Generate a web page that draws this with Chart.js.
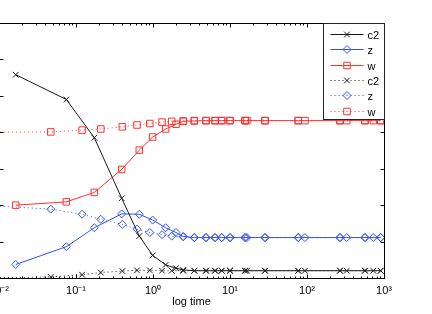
<!DOCTYPE html>
<html>
<head>
<meta charset="utf-8">
<script src="https://cdn.jsdelivr.net/npm/chart.js@4/dist/chart.umd.min.js"></script>
<style>
  html, body { margin: 0; padding: 0; background: #fff; overflow: hidden; }
  #wrap { position: absolute; left: -60px; top: 0; width: 492px; height: 314px; }
</style>
</head>
<body>
<div id="wrap"><canvas id="chart"></canvas></div>
<script>
// solid run
const tSolid  = [0.0165, 0.075, 0.173, 0.392, 0.664, 0.99, 1.46, 1.99, 2.47, 3.44, 4.88, 6.39, 7.8, 10, 15.7, 16.6, 28.5, 77, 94, 268, 328, 566, 726, 906];
const c2Solid = [5.58, 4.90, 3.85, 2.19, 1.15, 0.62, 0.36, 0.27, 0.22, 0.2, 0.2, 0.2, 0.2, 0.2, 0.2, 0.2, 0.2, 0.2, 0.2, 0.2, 0.2, 0.2, 0.2, 0.2];
const zSolid  = [0.37, 0.86, 1.38, 1.76, 1.75, 1.59, 1.38, 1.25, 1.14, 1.11, 1.11, 1.11, 1.11, 1.11, 1.11, 1.11, 1.11, 1.11, 1.11, 1.11, 1.11, 1.11, 1.11, 1.11];
const wSolid  = [2.0, 2.09, 2.35, 2.98, 3.51, 3.87, 4.09, 4.22, 4.30, 4.31, 4.32, 4.32, 4.32, 4.32, 4.32, 4.32, 4.32, 4.32, 4.32, 4.32, 4.32, 4.32, 4.32, 4.32];

// dotted run
const tDotted  = [0.005, 0.047, 0.12, 0.21, 0.40, 0.62, 0.91, 1.31, 1.75, 2.47, 3.44, 4.88, 6.39, 7.8, 10, 15.7, 28.5, 77, 268, 566, 906];
const c2Dotted = [0, 0.03, 0.09, 0.15, 0.19, 0.21, 0.21, 0.2, 0.2, 0.2, 0.2, 0.2, 0.2, 0.2, 0.2, 0.2, 0.2, 0.2, 0.2, 0.2, 0.2];
const zDotted  = [2.01, 1.89, 1.75, 1.61, 1.47, 1.34, 1.25, 1.19, 1.15, 1.13, 1.11, 1.11, 1.11, 1.11, 1.11, 1.11, 1.11, 1.11, 1.11, 1.11, 1.11];
const wDotted  = [4.0, 4.01, 4.06, 4.09, 4.15, 4.20, 4.24, 4.28, 4.30, 4.31, 4.32, 4.32, 4.32, 4.32, 4.32, 4.32, 4.32, 4.32, 4.32, 4.32, 4.32];

const xTicks = [0.01, 0.1, 1, 10, 100, 1000];
const xTickLabels = ["10⁻²", "10⁻¹", "10⁰", "10¹", "10²", "10³"];
const yTicks = [0, 1, 2, 3, 4, 5, 6, 7];
const legendLabels = ["c2", "z", "w", "c2", "z", "w"];

const FONT = "'Liberation Sans', Arial, Helvetica, sans-serif";
const BLACK = "#1a1a1a", BLUE = "#3050ff", RED = "#ff3030";

Chart.defaults.font.family = FONT;
Chart.defaults.font.size = 11;
Chart.defaults.color = "#000";

function pts(t, v) {
  return t.map((x, i) => ({ x, y: v[i] }));
}

function series(label, t, v, color, style, dotted) {
  return {
    label,
    data: pts(t, v),
    borderColor: color,
    backgroundColor: "transparent",
    borderWidth: 1,
    borderDash: dotted ? [1, 3] : [],
    pointStyle: style,
    pointRadius: style === "rect" ? 4.6 : 4,
    pointBorderColor: color,
    pointBackgroundColor: "transparent",
    pointBorderWidth: 1,
    pointHoverRadius: 0,
    tension: 0
  };
}

function drawMarker(ctx, style, r, x, y) {
  if (Chart.helpers && Chart.helpers.drawPoint) {
    Chart.helpers.drawPoint(ctx, { pointStyle: style, radius: r, borderWidth: 1, rotation: 0 }, x, y);
    return;
  }
  ctx.beginPath();
  if (style === "rect") {
    const s = r * Math.SQRT1_2;
    ctx.rect(x - s, y - s, 2 * s, 2 * s);
  } else if (style === "rectRot") {
    ctx.moveTo(x, y - r); ctx.lineTo(x + r, y); ctx.lineTo(x, y + r); ctx.lineTo(x - r, y); ctx.closePath();
  } else {
    const s = r * Math.SQRT1_2;
    ctx.moveTo(x - s, y - s); ctx.lineTo(x + s, y + s);
    ctx.moveTo(x + s, y - s); ctx.lineTo(x - s, y + s);
  }
  ctx.stroke();
}

// box, inward ticks and legend in the matlab way
const framePlugin = {
  id: "frame",
  afterDraw(chart) {
    const { ctx, chartArea: a, scales: { x, y } } = chart;
    const L = Math.round(a.left) + 0.5, R = Math.round(a.right) + 0.5;
    const T = Math.round(a.top) + 0.5, B = Math.round(a.bottom) + 0.5;
    ctx.save();
    ctx.strokeStyle = "#000";
    ctx.lineWidth = 1;
    ctx.setLineDash([]);
    ctx.strokeRect(L, T, R - L, B - T);

    ctx.beginPath();
    for (let e = -2; e <= 3; e++) {
      for (let m = 1; m <= 9; m++) {
        const v = m * Math.pow(10, e);
        if (v > 1000) break;
        const px = Math.round(x.getPixelForValue(v)) + 0.5;
        const len = m === 1 ? 4 : 2;
        ctx.moveTo(px, B); ctx.lineTo(px, B - len);
        ctx.moveTo(px, T); ctx.lineTo(px, T + len);
      }
    }
    yTicks.forEach(v => {
      const py = Math.round(y.getPixelForValue(v)) + 0.5;
      ctx.moveTo(L, py); ctx.lineTo(L + 4, py);
      ctx.moveTo(R, py); ctx.lineTo(R - 4, py);
    });
    ctx.stroke();

    // legend
    const w = 61, h = 96;
    const lx = R - w, ly = T;
    ctx.fillStyle = "#fff";
    ctx.fillRect(lx, ly, w, h);
    ctx.strokeStyle = "#222";
    ctx.strokeRect(lx, ly, w, h);
    ctx.font = "11px " + FONT;
    ctx.textBaseline = "middle";
    ctx.textAlign = "left";
    chart.data.datasets.forEach((ds, i) => {
      const ey = Math.round(ly + 10.5 + i * 15.3) + 0.5;
      ctx.strokeStyle = ds.borderColor;
      ctx.lineWidth = 1;
      ctx.setLineDash(ds.borderDash);
      ctx.beginPath();
      ctx.moveTo(lx + 7, ey);
      ctx.lineTo(lx + 40, ey);
      ctx.stroke();
      ctx.setLineDash([]);
      ctx.fillStyle = "rgba(0,0,0,0)";
      drawMarker(ctx, ds.pointStyle, ds.pointRadius, lx + 23.5, ey);
      ctx.fillStyle = "#000";
      ctx.fillText(legendLabels[i], lx + 44, ey + 1);
    });
    ctx.restore();
  }
};

new Chart(document.getElementById("chart"), {
  type: "line",
  data: {
    datasets: [
      series("c2", tSolid, c2Solid, BLACK, "crossRot", false),
      series("z", tSolid, zSolid, BLUE, "rectRot", false),
      series("w", tSolid, wSolid, RED, "rect", false),
      series("c2", tDotted, c2Dotted, BLACK, "crossRot", true),
      series("z", tDotted, zDotted, BLUE, "rectRot", true),
      series("w", tDotted, wDotted, RED, "rect", true)
    ]
  },
  options: {
    responsive: true,
    maintainAspectRatio: false,
    animation: false,
    layout: { padding: { top: 23, right: 48, bottom: 0, left: 0 } },
    plugins: { legend: { display: false }, tooltip: { enabled: false } },
    scales: {
      x: {
        type: "logarithmic",
        min: 0.01,
        max: 1000,
        afterBuildTicks: s => { s.ticks = xTicks.map(v => ({ value: v })); },
        afterFit: s => { s.height = 36; },
        grid: { display: false, drawTicks: false },
        border: { display: false },
        ticks: {
          autoSkip: false,
          maxRotation: 0,
          padding: 6,
          color: "#000",
          callback: (v, i) => xTickLabels[i]
        },
        title: {
          display: true,
          text: "log time",
          color: "#000",
          font: { size: 11 },
          padding: { top: 0, bottom: 5.5 }
        }
      },
      y: {
        min: 0,
        max: 7,
        afterFit: s => { s.width = 59; },
        ticks: { display: false },
        grid: { display: false, drawTicks: false },
        border: { display: false }
      }
    }
  },
  plugins: [framePlugin]
});
</script>
</body>
</html>
